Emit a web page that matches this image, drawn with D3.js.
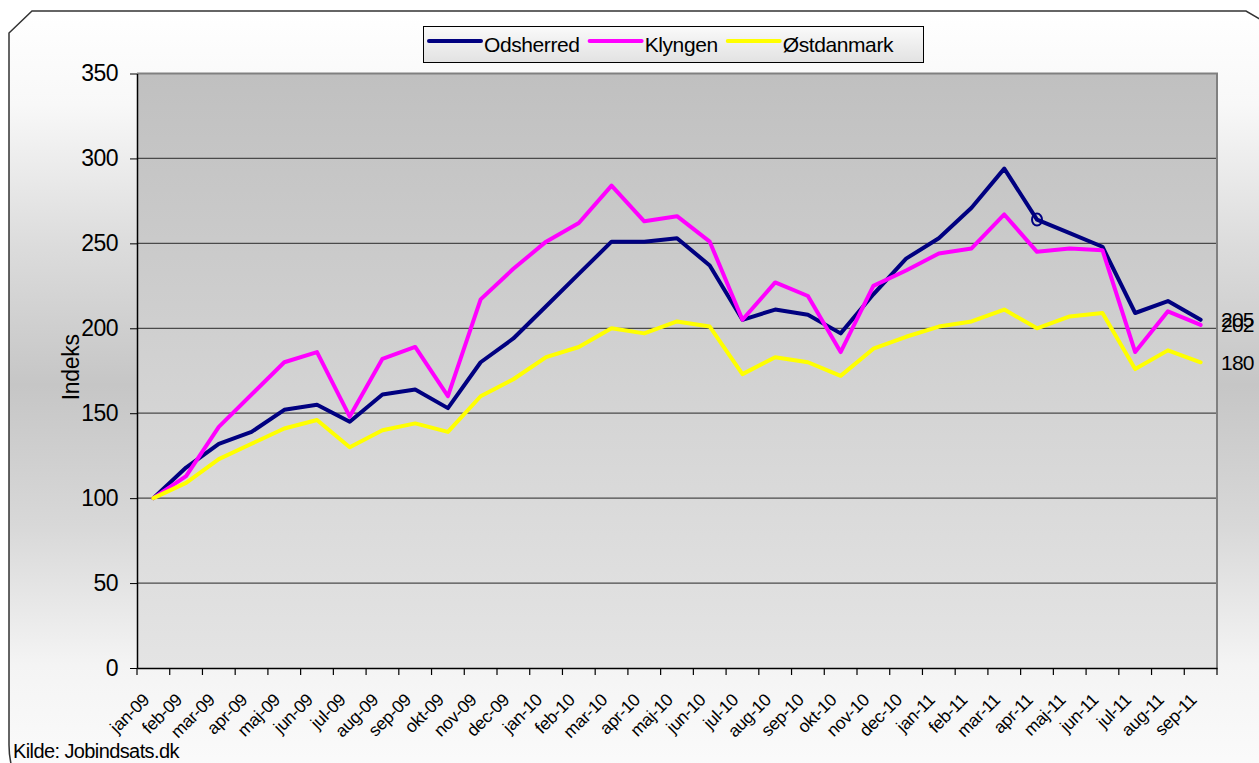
<!DOCTYPE html>
<html lang="da">
<head>
<meta charset="UTF-8">
<title>Indeks Odsherred, Klyngen, Østdanmark</title>
<script src="https://d3js.org/d3.v7.min.js"></script>
<style>
  body { margin: 0; background: #fff; overflow: hidden; }
  svg { display: block; font-family: "Liberation Sans", Arial, sans-serif; }
</style>
</head>
<body>
<svg id="chart" width="1259" height="763"></svg>
<script>
// data
const months = ["jan-09","feb-09","mar-09","apr-09","maj-09","jun-09","jul-09","aug-09","sep-09","okt-09","nov-09","dec-09",
  "jan-10","feb-10","mar-10","apr-10","maj-10","jun-10","jul-10","aug-10","sep-10","okt-10","nov-10","dec-10",
  "jan-11","feb-11","mar-11","apr-11","maj-11","jun-11","jul-11","aug-11","sep-11"];
const odsherred = [100,118,132,139,152,155,145,161,164,153,180,194,
  213,232,251,251,253,237,205,211,208,197,220,241,
  253,271,294,264,256,248,209,216,205];
const klyngen = [100,113,142,161,180,186,148,182,189,160,217,235,
  251,262,284,263,266,251,205,227,219,186,225,234,
  244,247,267,245,247,246,186,210,202];
const ostdanmark = [100,109,123,132,141,146,130,140,144,139,160,170,
  183,189,200,197,204,201,173,183,180,172,188,195,
  201,204,211,200,207,209,176,187,180];
const yTicks = [0,50,100,150,200,250,300,350];
const seriesNames = ["Odsherred","Klyngen","Østdanmark"];
const seriesColors = ["#000080","#ff00ff","#ffff00"];
const yTitle = "Indeks";
const source = "Kilde: Jobindsats.dk";
const markedMonth = "apr-11"; // lille ring på Odsherred-linjen

const series = [odsherred, klyngen, ostdanmark].map((vals, i) => ({
  name: seriesNames[i], color: seriesColors[i], values: vals
}));

const svg = d3.select("#chart");
const plot = { left: 137, right: 1217, top: 73.5, bottom: 668 };

const defs = svg.append("defs");
const bgGrad = defs.append("linearGradient").attr("id", "bgGrad")
  .attr("x1", 0).attr("y1", 0).attr("x2", 0).attr("y2", 1);
[[0,"#ffffff"],[0.12,"#f8f8f8"],[0.3,"#dcdcdc"],[0.48,"#c6c6c6"],[0.66,"#d8d8d8"],[0.84,"#f4f4f4"],[1,"#fcfcfc"]]
  .forEach(([o,c]) => bgGrad.append("stop").attr("offset", o).attr("stop-color", c));
const plotGrad = defs.append("linearGradient").attr("id", "plotGrad")
  .attr("x1", 0).attr("y1", 0).attr("x2", 0).attr("y2", 1);
plotGrad.append("stop").attr("offset", 0).attr("stop-color", "#c0c0c0");
plotGrad.append("stop").attr("offset", 1).attr("stop-color", "#e4e4e4");
const legGrad = defs.append("linearGradient").attr("id", "legGrad")
  .attr("x1", 0).attr("y1", 0).attr("x2", 0).attr("y2", 1);
legGrad.append("stop").attr("offset", 0).attr("stop-color", "#fafafa");
legGrad.append("stop").attr("offset", 1).attr("stop-color", "#e2e2e2");

// chart area with chamfered corner
svg.append("path")
  .attr("d", "M9,33 L32,11 L1246,11 L1275,28 L1275,790 L22,790 Q9,770 9,745 Z")
  .attr("fill", "url(#bgGrad)")
  .attr("stroke", "#333").attr("stroke-width", 1.5);

// scales
const x = d3.scaleBand().domain(months).range([plot.left, plot.right]);
const cx = m => x(m) + x.bandwidth() / 2;
const y = d3.scaleLinear().domain([0, 350]).range([plot.bottom, plot.top]);

// plot area
svg.append("rect")
  .attr("x", plot.left).attr("y", plot.top)
  .attr("width", plot.right - plot.left).attr("height", plot.bottom - plot.top)
  .attr("fill", "url(#plotGrad)");

// gridlines
svg.append("g").selectAll("line").data(yTicks.filter(d => d > 0 && d < 350)).join("line")
  .attr("x1", plot.left).attr("x2", plot.right)
  .attr("y1", d => y(d)).attr("y2", d => y(d))
  .attr("stroke", "#4a4a4a").attr("stroke-width", 1.2);

// top and right border
svg.append("path")
  .attr("d", `M${plot.left},${plot.top} L${plot.right},${plot.top} L${plot.right},${plot.bottom}`)
  .attr("fill", "none").attr("stroke", "#808080").attr("stroke-width", 2);

// y axis
const yAxis = svg.append("g")
  .attr("transform", `translate(${plot.left},0)`)
  .call(d3.axisLeft(y).tickValues(yTicks).tickSize(7).tickPadding(12).tickSizeOuter(0));
yAxis.select(".domain").attr("stroke", "#000").attr("stroke-width", 1.5);
yAxis.selectAll(".tick line").attr("stroke", "#000");
yAxis.selectAll(".tick text")
  .attr("font-family", "Liberation Sans, Arial, sans-serif")
  .attr("font-size", 23).attr("fill", "#000").attr("letter-spacing", -0.5);

svg.append("text")
  .attr("transform", `translate(79,${y(177)}) rotate(-90)`)
  .attr("text-anchor", "middle")
  .attr("font-size", 23).attr("letter-spacing", -0.3)
  .text(yTitle);

// x axis
const xAxis = svg.append("g")
  .attr("transform", `translate(0,${plot.bottom})`)
  .call(d3.axisBottom(x).tickSize(0).tickSizeOuter(0));
xAxis.select(".domain").attr("stroke", "#000").attr("stroke-width", 1.5);
xAxis.selectAll(".tick text")
  .attr("font-family", "Liberation Sans, Arial, sans-serif")
  .attr("font-size", 17.5).attr("fill", "#000").attr("letter-spacing", -0.3)
  .attr("x", 0).attr("y", 0).attr("dy", 0)
  .attr("text-anchor", "end")
  .attr("transform", "translate(-3,33) rotate(-45)");
// tick marks on category boundaries
const bounds = months.map(m => x(m)).concat([x.range()[1]]);
svg.append("g").selectAll("line").data(bounds).join("line")
  .attr("x1", d => d).attr("x2", d => d)
  .attr("y1", plot.bottom).attr("y2", plot.bottom + 7)
  .attr("stroke", "#000").attr("stroke-width", 1.2);

// lines
const line = d3.line().x((d, i) => cx(months[i])).y(d => y(d));
svg.append("g").selectAll("path").data(series).join("path")
  .attr("d", d => line(d.values))
  .attr("fill", "none")
  .attr("stroke", d => d.color)
  .attr("stroke-width", 4)
  .attr("stroke-linejoin", "round")
  .attr("stroke-linecap", "round");

// ring marker on Odsherred
const mi = months.indexOf(markedMonth);
svg.append("ellipse")
  .attr("cx", cx(markedMonth)).attr("cy", y(odsherred[mi]))
  .attr("rx", 5).attr("ry", 6)
  .attr("fill", "none").attr("stroke", "#000080").attr("stroke-width", 2);

// end labels (205 and 202 overlap in the original too)
svg.append("g").selectAll("text").data(series).join("text")
  .attr("x", plot.right + 4)
  .attr("y", d => y(d.values[d.values.length - 1]))
  .attr("dy", "0.36em")
  .attr("font-size", 21).attr("letter-spacing", -0.8)
  .text(d => d.values[d.values.length - 1]);

// legend
const leg = svg.append("g");
leg.append("rect")
  .attr("x", 423.5).attr("y", 26.5).attr("width", 500).attr("height", 36)
  .attr("fill", "url(#legGrad)").attr("stroke", "#000").attr("stroke-width", 1);
let lx = 429;
series.forEach(s => {
  leg.append("line")
    .attr("x1", lx).attr("x2", lx + 52).attr("y1", 41).attr("y2", 41)
    .attr("stroke", s.color).attr("stroke-width", 4).attr("stroke-linecap", "round");
  const t = leg.append("text")
    .attr("x", lx + 55).attr("y", 52)
    .attr("font-size", 21).attr("letter-spacing", -0.4)
    .text(s.name);
  lx += 55 + t.node().getComputedTextLength() + 10;
});

// source
svg.append("text")
  .attr("x", 13).attr("y", 758)
  .attr("font-size", 20).attr("letter-spacing", -0.6)
  .text(source);
</script>
</body>
</html>
